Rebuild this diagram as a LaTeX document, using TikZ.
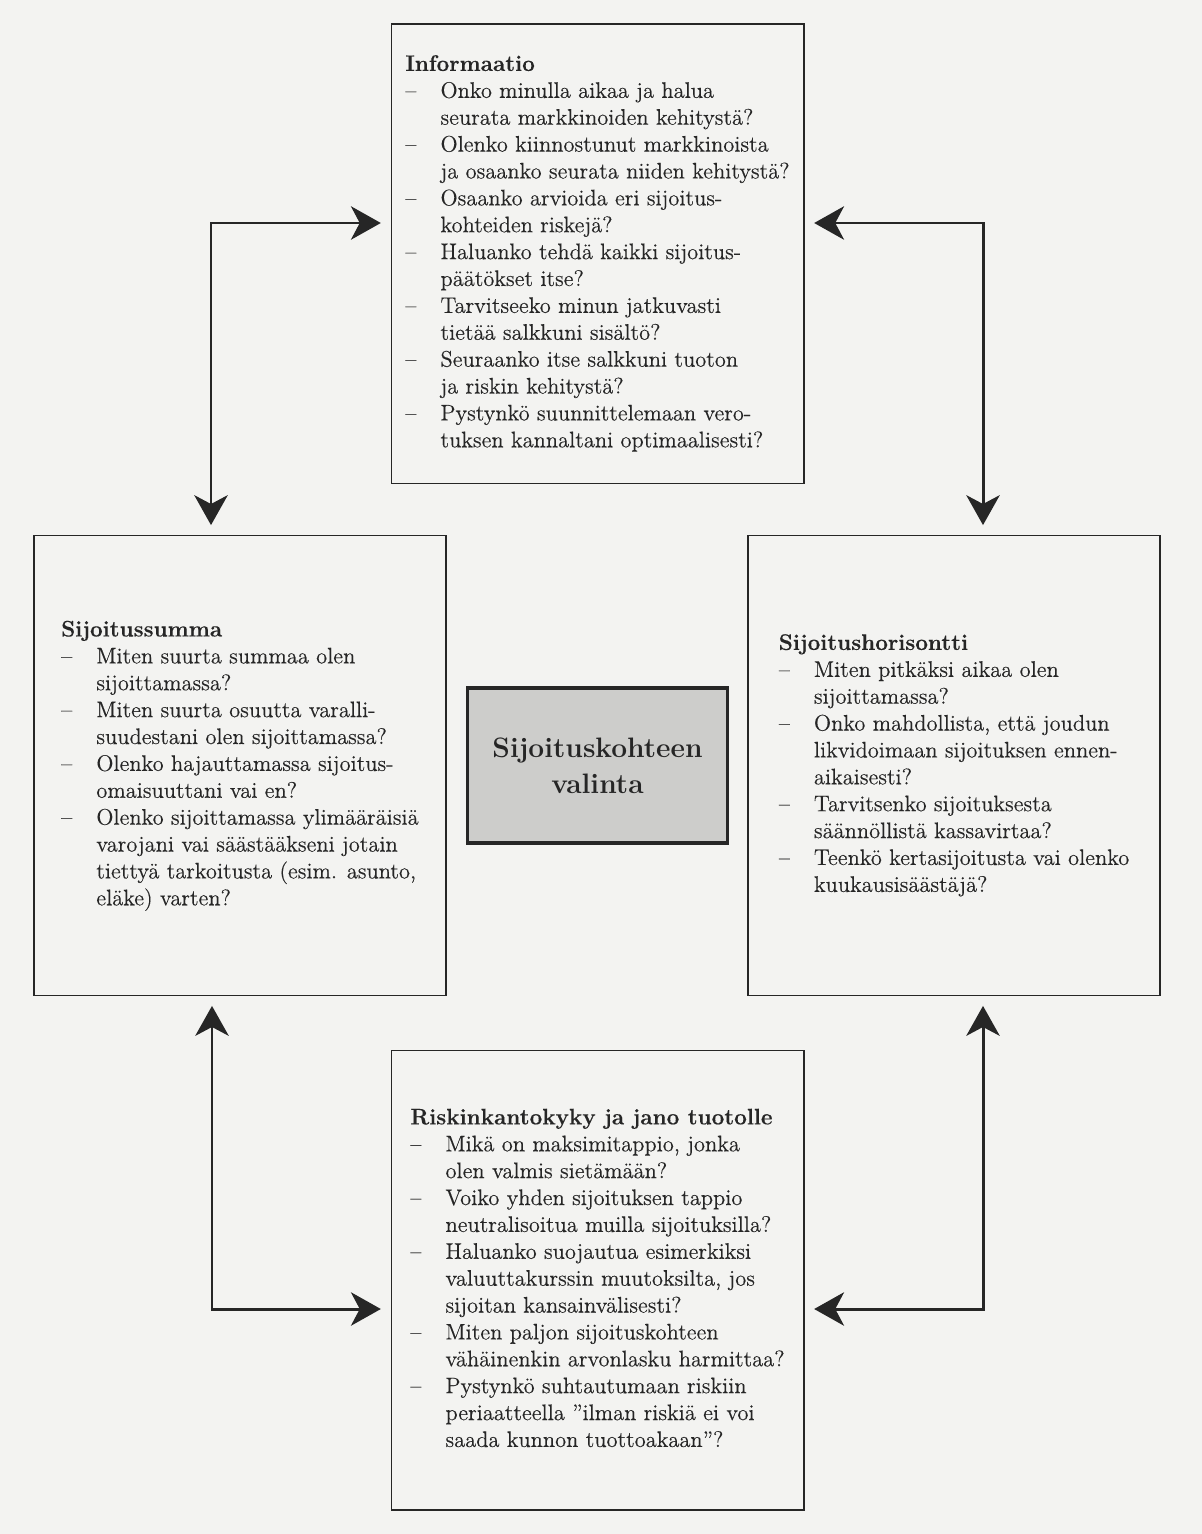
\documentclass[tikz,border=0pt]{standalone}
\usepackage{fontspec}
\usepackage{xcolor}
\usepackage{tikz}
\usetikzlibrary{positioning, arrows.meta, calc}

\newfontfamily\bookfont{Latin Modern Roman}[Ligatures=TeX, FakeBold=0.3]

\definecolor{ink}{HTML}{262626}
\definecolor{paper}{HTML}{F3F3F1}
\definecolor{centerfill}{HTML}{CDCDCB}

\begin{document}
\begin{tikzpicture}[
    x=0.02cm, y=-0.02cm,
    qbox/.style={rectangle, draw=ink, line width=0.9pt, minimum width=8.25cm, minimum height=9.2cm, inner sep=0pt, text=ink, font=\bookfont\fontsize{12.8}{15.3}\selectfont},
    mainbox/.style={rectangle, draw=ink, line width=1.8pt, fill=centerfill, minimum width=5.2cm, minimum height=3.1cm, align=center, text=ink, font=\fontsize{16}{20.4}\selectfont\bfseries},
    link/.style={draw=ink, line width=1.7pt, {Stealth[length=17pt, width=19pt, inset=5pt]}-{Stealth[length=17pt, width=19pt, inset=5pt]}, shorten <=5.5pt, shorten >=5.5pt}
]
% Page
\fill[paper] (0,0) rectangle (1202,1534);
\useasboundingbox (0,0) rectangle (1202,1534);

% Nodes
\node[mainbox] (choice) at (597.5,765.5) {Sijoituskohteen\\valinta};

\node[qbox, above=4.04cm of choice] (info) {\begin{tabular}{@{}p{20pt}@{}l@{}}
\multicolumn{2}{@{}l@{}}{\textbf{Informaatio}}\\
– & Onko minulla aikaa ja halua\\
  & seurata markkinoiden kehitystä?\\
– & Olenko kiinnostunut markkinoista\\
  & ja osaanko seurata niiden kehitystä?\\
– & Osaanko arvioida eri sijoitus-\\
  & kohteiden riskejä?\\
– & Haluanko tehdä kaikki sijoitus-\\
  & päätökset itse?\\
– & Tarvitseeko minun jatkuvasti\\
  & tietää salkkuni sisältö?\\
– & Seuraanko itse salkkuni tuoton\\
  & ja riskin kehitystä?\\
– & Pystynkö suunnittelemaan vero-\\
  & tuksen kannaltani optimaalisesti?
\end{tabular}};

\node[qbox, left=0.38cm of choice] (sum) {\begin{tabular}{@{}p{20pt}@{}l@{}}
\multicolumn{2}{@{}l@{}}{\textbf{Sijoitussumma}}\\
– & Miten suurta summaa olen\\
  & sijoittamassa?\\
– & Miten suurta osuutta varalli-\\
  & suudestani olen sijoittamassa?\\
– & Olenko hajauttamassa sijoitus-\\
  & omaisuuttani vai en?\\
– & Olenko sijoittamassa ylimääräisiä\\
  & varojani vai säästääkseni jotain\\
  & tiettyä tarkoitusta (esim. asunto,\\
  & eläke) varten?
\end{tabular}};

\node[qbox, right=0.36cm of choice] (horizon) {\begin{tabular}{@{}p{20pt}@{}l@{}}
\multicolumn{2}{@{}l@{}}{\textbf{Sijoitushorisontti}}\\
– & Miten pitkäksi aikaa olen\\
  & sijoittamassa?\\
– & Onko mahdollista, että joudun\\
  & likvidoimaan sijoituksen ennen-\\
  & aikaisesti?\\
– & Tarvitsenko sijoituksesta\\
  & säännöllistä kassavirtaa?\\
– & Teenkö kertasijoitusta vai olenko\\
  & kuukausisäästäjä?
\end{tabular}};

\node[qbox, below=4.1cm of choice] (risk) {\begin{tabular}{@{}p{20pt}@{}l@{}}
\multicolumn{2}{@{}l@{}}{\textbf{Riskinkantokyky ja jano tuotolle}}\\
– & Mikä on maksimitappio, jonka\\
  & olen valmis sietämään?\\
– & Voiko yhden sijoituksen tappio\\
  & neutralisoitua muilla sijoituksilla?\\
– & Haluanko suojautua esimerkiksi\\
  & valuuttakurssin muutoksilta, jos\\
  & sijoitan kansainvälisesti?\\
– & Miten paljon sijoituskohteen\\
  & vähäinenkin arvonlasku harmittaa?\\
– & Pystynkö suhtautumaan riskiin\\
  & periaatteella ”ilman riskiä ei voi\\
  & saada kunnon tuottoakaan”?
\end{tabular}};

% Corners of the connectors
\coordinate (tl) at (211,223);
\coordinate (tr) at (983,223);
\coordinate (bl) at (212,1309);
\coordinate (br) at (983,1309);

% Connectors
\draw[link] (tl -| info.west) -- (tl) -- (tl |- sum.north);
\draw[link] (tr -| info.east) -- (tr) -- (tr |- horizon.north);
\draw[link] (bl |- sum.south) -- (bl) -- (bl -| risk.west);
\draw[link] (br |- horizon.south) -- (br) -- (br -| risk.east);

\end{tikzpicture}
\end{document}
